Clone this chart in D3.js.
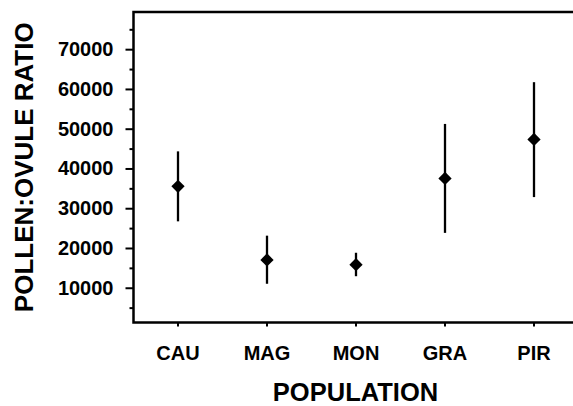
<!DOCTYPE html>
<html>
<head>
<meta charset="utf-8">
<script src="https://cdn.jsdelivr.net/npm/d3@7"></script>
<style>
  html, body { margin: 0; padding: 0; background: #fff; }
  svg { display: block; }
  text { font-family: "Liberation Sans", Arial, sans-serif; font-weight: bold; fill: #000; }
</style>
</head>
<body>
<svg id="chart" width="573" height="406"></svg>
<script>
const populations = ["CAU", "MAG", "MON", "GRA", "PIR"];
const meanRatio  = [35500, 17000, 15800, 37500, 47300];
const lowerRatio = [26700, 11000, 12900, 23800, 32800];
const upperRatio = [44300, 23100, 18800, 51200, 61700];
const majorTicks = [10000, 20000, 30000, 40000, 50000, 60000, 70000];
const minorTicks = [5000, 15000, 25000, 35000, 45000, 55000, 65000, 75000];
const xTitle = "POPULATION";
const yTitle = "POLLEN:OVULE RATIO";

const W = 573, H = 406;
const mLeft = 133.5, mTop = 12, mBottom = 322.5, xRangeEnd = 578.5;

const svg = d3.select("#chart");

const x = d3.scaleBand().domain(populations).range([mLeft, xRangeEnd]).padding(0);
const y = d3.scaleLinear().domain([1260, 79350]).range([mBottom, mTop]);

// Y axis: major ticks with labels
const yAxis = svg.append("g").attr("transform", `translate(${mLeft},0)`)
  .call(d3.axisLeft(y).tickValues(majorTicks).tickSize(8).tickSizeOuter(0)
        .tickPadding(12).tickFormat(d3.format("d")));
yAxis.select(".domain").remove();
yAxis.selectAll(".tick line").attr("stroke", "#000").attr("stroke-width", 2);
yAxis.selectAll(".tick text").style("font-size", "20px");

// Y minor ticks
const yMinor = svg.append("g").attr("transform", `translate(${mLeft},0)`)
  .call(d3.axisLeft(y).tickValues(minorTicks).tickSize(4).tickSizeOuter(0).tickFormat(""));
yMinor.select(".domain").remove();
yMinor.selectAll(".tick line").attr("stroke", "#000").attr("stroke-width", 2);

// X axis
const xAxis = svg.append("g").attr("transform", `translate(0,${mBottom})`)
  .call(d3.axisBottom(x).tickSize(4).tickSizeOuter(0).tickPadding(19));
xAxis.select(".domain").remove();
xAxis.selectAll(".tick line").attr("stroke", "#000").attr("stroke-width", 2);
xAxis.selectAll(".tick text").style("font-size", "20px");

// Frame: left, bottom, top lines
svg.append("path")
  .attr("d", `M${W},${y.range()[1]} H${mLeft} V${y.range()[0]} H${W}`)
  .attr("fill", "none").attr("stroke", "#000").attr("stroke-width", 2.5);

// Error bars
const cx = d => x(d) + x.bandwidth() / 2;
svg.append("g").selectAll("line").data(populations).join("line")
  .attr("x1", cx).attr("x2", cx)
  .attr("y1", (d, i) => y(lowerRatio[i]))
  .attr("y2", (d, i) => y(upperRatio[i]))
  .attr("stroke", "#000").attr("stroke-width", 2.3);

// Diamond markers
const diamond = d3.symbol().type(d3.symbolSquare).size(88);
svg.append("g").selectAll("path").data(populations).join("path")
  .attr("d", diamond)
  .attr("transform", (d, i) => `translate(${cx(d)},${y(meanRatio[i])}) rotate(45)`)
  .attr("fill", "#000");

// Axis titles
svg.append("text")
  .attr("transform", `translate(33,${(mTop + mBottom) / 2}) rotate(-90)`)
  .attr("text-anchor", "middle")
  .style("font-size", "26px")
  .text(yTitle);

svg.append("text")
  .attr("x", (mLeft + xRangeEnd) / 2 - 0.5)
  .attr("y", 401)
  .attr("text-anchor", "middle")
  .style("font-size", "25.5px")
  .text(xTitle);
</script>
</body>
</html>
